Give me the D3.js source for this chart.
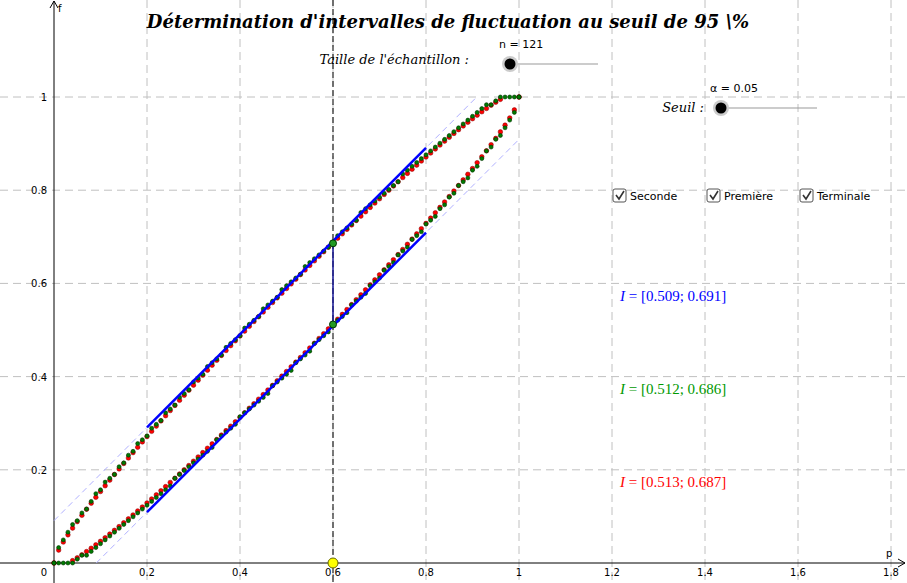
<!DOCTYPE html>
<html><head><meta charset="utf-8">
<script src="https://cdn.jsdelivr.net/npm/d3@7"></script>
<style>body{margin:0;background:#fff}svg{display:block}</style>
</head><body><svg id="c" width="907" height="583"></svg>
<script>
const n = 121;
const pSelected = 0.6;
const xTicks = [0.2,0.4,0.6,0.8,1,1.2,1.4,1.6,1.8];
const yTicks = [0.2,0.4,0.6,0.8,1];
// red: half-width of normal interval, p = 0, 0.01, ..., 0.5 (mirrored for p > 0.5)
const redHalf = [0,.01773,.02495,.03040,.03492,.03883,.04232,.04546,.04834,.05099,.05345,.05575,.05790,.05992,.06183,.06362,.06532,.06693,.06845,.06990,.07127,.07257,.07381,.07498,.07610,.07716,.07816,.07911,.08000,.08085,.08165,.08241,.08312,.08378,.08441,.08499,.08553,.08603,.08649,.08691,.08729,.08763,.08794,.08821,.08845,.08864,.08880,.08893,.08902,.08907,.08909];
// green: binomial bounds (k out of n), p = 0 .. 0.5
const greenLowK = [0,0,0,0,0,1,2,2,3,4,5,6,7,8,9,10,11,12,13,14,15,16,17,18,19,20,22,23,24,25,26,27,28,29,30,32,33,34,35,36,38,39,40,41,42,43,44,46,47,48,49];
const greenUpK = [0,4,6,8,10,11,13,14,16,18,19,21,22,23,25,26,28,29,31,32,33,35,36,37,39,40,41,43,44,45,47,48,49,51,52,53,54,56,57,58,59,61,62,63,64,66,67,68,69,71,72];
const labels = [
  {t:"[0.509; 0.691]", c:"#0000ff"},
  {t:"[0.512; 0.686]", c:"#009900"},
  {t:"[0.513; 0.687]", c:"#ff0000"}
];

const svg = d3.select("#c");
const x = d3.scaleLinear().domain([0,1]).range([54,519]);
const y = d3.scaleLinear().domain([0,1]).range([563,97]);

svg.append("g").selectAll("line").data(xTicks).join("line")
  .attr("x1",d=>x(d)).attr("x2",d=>x(d)).attr("y1",0).attr("y2",583)
  .attr("stroke","#c0c0c0").attr("stroke-dasharray","8,5");
svg.append("g").selectAll("line").data(yTicks).join("line")
  .attr("y1",d=>y(d)).attr("y2",d=>y(d)).attr("x1",0).attr("x2",907)
  .attr("stroke","#c0c0c0").attr("stroke-dasharray","8,5");

svg.append("line").attr("x1",0).attr("x2",905).attr("y1",y(0)).attr("y2",y(0)).attr("stroke","#000");
svg.append("path").attr("d",`M898,${y(0)-4}L905,${y(0)}L898,${y(0)+4}`).attr("fill","none").attr("stroke","#000");
svg.append("line").attr("x1",x(0)).attr("x2",x(0)).attr("y1",1).attr("y2",583).attr("stroke","#000");
svg.append("path").attr("d",`M${x(0)-4},8L${x(0)},1L${x(0)+4},8`).attr("fill","none").attr("stroke","#000");
const tf = "font-family:'DejaVu Sans',sans-serif;font-size:10px";
svg.append("g").selectAll("text").data(xTicks).join("text")
  .attr("x",d=>x(d)).attr("y",576).attr("text-anchor","middle").attr("style",tf).text(d=>d);
svg.append("g").selectAll("text").data(yTicks).join("text")
  .attr("x",47).attr("y",d=>y(d)+4).attr("text-anchor","end").attr("style",tf).text(d=>d);
svg.append("text").attr("x",47).attr("y",576).attr("text-anchor","end").attr("style",tf).text("0");
svg.append("text").attr("x",886).attr("y",557).attr("style",tf).text("p");
svg.append("text").attr("x",58).attr("y",12).attr("style",tf).text("f");

const h = 1/Math.sqrt(n);
svg.append("line").attr("x1",x(0)).attr("y1",y(h)).attr("x2",x(1-h)).attr("y2",y(1))
  .attr("stroke","#b0b0ff").attr("stroke-dasharray","6,4");
svg.append("line").attr("x1",x(h)).attr("y1",y(0)).attr("x2",x(1)).attr("y2",y(1-h))
  .attr("stroke","#b0b0ff").attr("stroke-dasharray","6,4");

svg.append("line").attr("x1",x(pSelected)).attr("x2",x(pSelected)).attr("y1",0).attr("y2",583)
  .attr("stroke","#333").attr("stroke-dasharray","6,3").attr("stroke-width",1.3);

const pts = d3.range(101).map(i=>{
  const p = i/100, j = i<=50 ? i : 100-i;
  const hw = redHalf[j];
  const lo = i<=50 ? greenLowK[i] : n-greenUpK[j];
  const up = i<=50 ? greenUpK[i] : n-greenLowK[j];
  return {p, rl:p-hw, ru:p+hw, gl:lo/n, gu:up/n};
});
const red = svg.append("g");
["rl","ru"].forEach(k=>red.selectAll(".r"+k).data(pts.filter(d=>d[k]>=0&&d[k]<=1)).join("circle")
  .attr("cx",d=>x(d.p)).attr("cy",d=>y(d[k])).attr("r",2.3).attr("fill","#ff0000").attr("stroke","#800000").attr("stroke-width",0.5));
const gr = svg.append("g");
["gl","gu"].forEach(k=>gr.selectAll(".g"+k).data(pts).join("circle")
  .attr("cx",d=>x(d.p)).attr("cy",d=>y(d[k])).attr("r",2).attr("fill","#007a00").attr("stroke","#003300").attr("stroke-width",0.6));

svg.append("line").attr("x1",x(0.2)).attr("y1",y(0.2+h)).attr("x2",x(0.8)).attr("y2",y(0.8+h)).attr("stroke","#0000ff").attr("stroke-width",2.5);
svg.append("line").attr("x1",x(0.2)).attr("y1",y(0.2-h)).attr("x2",x(0.8)).attr("y2",y(0.8-h)).attr("stroke","#0000ff").attr("stroke-width",2.5);
svg.append("line").attr("x1",x(pSelected)).attr("y1",y(0.509)).attr("x2",x(pSelected)).attr("y2",y(0.691)).attr("stroke","#1a1a9a").attr("stroke-width",1.5);
[0.512,0.686].forEach(v=>svg.append("circle").attr("cx",x(pSelected)).attr("cy",y(v)).attr("r",3.5).attr("fill","#229922").attr("stroke","#003300"));
svg.append("circle").attr("cx",x(pSelected)).attr("cy",y(0)).attr("r",5).attr("fill","#ffff00").attr("stroke","#666600");

const serif = "font-family:'DejaVu Serif',serif;font-style:italic";
svg.append("text").attr("x",448).attr("y",28).attr("text-anchor","middle")
  .attr("style",serif+";font-weight:bold;font-size:18px").text("Détermination d'intervalles de fluctuation au seuil de 95 \\%");
svg.append("text").attr("x",469).attr("y",64).attr("text-anchor","end").attr("style",serif+";font-size:13px").text("Taille de l'échantillon  :");
svg.append("text").attr("x",704).attr("y",112).attr("text-anchor","end").attr("style",serif+";font-size:13px").text("Seuil  :");
function slider(cx,cy,len,label){
  svg.append("line").attr("x1",cx).attr("x2",cx+len).attr("y1",cy).attr("y2",cy).attr("stroke","#999");
  svg.append("circle").attr("cx",cx).attr("cy",cy).attr("r",8).attr("fill","#ccc");
  svg.append("circle").attr("cx",cx).attr("cy",cy).attr("r",5.5).attr("fill","#000");
  svg.append("text").attr("x",cx-11).attr("y",cy-16).attr("style",tf+";font-size:11px").text(label);
}
slider(510,64,88,"n = 121");
slider(721,108,96,"α = 0.05");
[["Seconde",613],["Première",707],["Terminale",800]].forEach(([t,cx])=>{
  svg.append("rect").attr("x",cx).attr("y",189).attr("width",13).attr("height",13).attr("rx",2).attr("fill","#fff").attr("stroke","#555");
  svg.append("path").attr("d",`M${cx+3},${195}L${cx+6},${199}L${cx+11},${191}`).attr("fill","none").attr("stroke","#333").attr("stroke-width",1.6);
  svg.append("text").attr("x",cx+17).attr("y",200).attr("style",tf+";font-size:11px").text(t);
});
labels.forEach((l,i)=>{
  const t = svg.append("text").attr("x",620).attr("y",301+i*93)
    .attr("style","font-family:'Liberation Serif',serif;font-size:15px").attr("fill",l.c);
  t.append("tspan").attr("font-style","italic").text("I");
  t.append("tspan").text(" = " + l.t);
});
</script></body></html>
